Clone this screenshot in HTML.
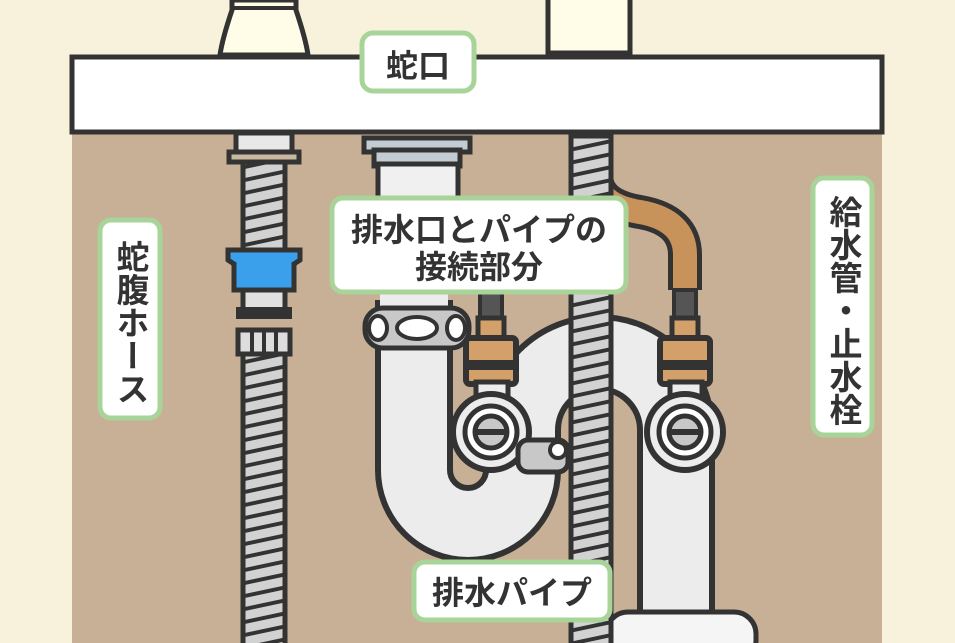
<!DOCTYPE html>
<html><head><meta charset="utf-8"><style>
html,body{margin:0;padding:0;background:#f8f2dc;}
svg{display:block}
text{font-family:"Liberation Sans","Noto Sans CJK JP",sans-serif;font-weight:bold;fill:#333;}
.vl{position:absolute;writing-mode:vertical-rl;font-family:"Liberation Sans","Noto Sans CJK JP",sans-serif;font-weight:bold;color:#333;font-size:33px;line-height:1;text-align:center;}
</style></head><body>
<div style="position:relative;width:955px;height:643px;overflow:hidden">
<svg width="955" height="643" viewBox="0 0 955 643" xmlns="http://www.w3.org/2000/svg">
<defs>
<pattern id="hose" width="60" height="13" patternUnits="userSpaceOnUse" patternTransform="skewY(-12)">
<rect width="60" height="13" fill="#d2d2d2"/><rect y="9" width="60" height="4" fill="#333"/>
</pattern>
</defs>
<rect width="955" height="643" fill="#f8f2dc"/>
<rect x="72" y="130" width="810" height="513" fill="#c8b096"/>
<path d="M232 0 L232 10 Q222 40 220 55 L308 55 Q306 40 296 10 L296 0Z" fill="#fffde8" stroke="#333" stroke-width="5"/>
<line x1="232" y1="8" x2="296" y2="8" stroke="#333" stroke-width="4"/>
<rect x="548" y="-5" width="82" height="58" fill="#fffde8" stroke="#333" stroke-width="5"/>
<rect x="236" y="133" width="56" height="22" fill="#e8e8e8" stroke="#333" stroke-width="5"/>
<rect x="229" y="152" width="70" height="10" fill="#c9b8a0" stroke="#333" stroke-width="5"/>
<rect x="243" y="162" width="42" height="96" fill="url(#hose)" stroke="#333" stroke-width="5"/>
<path d="M228 250 L300 250 L300 260 L294 264 L294 290 L234 290 L234 264 L228 260Z" fill="#3aa0ec" stroke="#333" stroke-width="5"/>
<rect x="243" y="290" width="42" height="20" fill="#e0e0e0" stroke="#333" stroke-width="5"/>
<rect x="236" y="307" width="56" height="12" fill="#333"/>
<rect x="238" y="330" width="52" height="24" fill="#ddd" stroke="#333" stroke-width="5"/>
<line x1="252" y1="332" x2="252" y2="352" stroke="#333" stroke-width="4"/><line x1="264" y1="332" x2="264" y2="352" stroke="#333" stroke-width="4"/><line x1="276" y1="332" x2="276" y2="352" stroke="#333" stroke-width="4"/>
<rect x="243" y="354" width="42" height="300" fill="url(#hose)" stroke="#333" stroke-width="5"/>
<rect x="364" y="138" width="106" height="14" fill="#c3ccd2" stroke="#333" stroke-width="5"/>
<rect x="374" y="150" width="86" height="16" fill="#c3ccd2" stroke="#333" stroke-width="5"/>
<rect x="378" y="164" width="80" height="50" fill="#f0f0f0" stroke="#333" stroke-width="5"/>
<path d="M414 300 L414 470 A54 54 0 0 0 522 470 L522 430 A77 77 0 0 1 676 430 L676 660" fill="none" stroke="#333" stroke-width="78"/>
<path d="M414 300 L414 470 A54 54 0 0 0 522 470 L522 430 A77 77 0 0 1 676 430 L676 660" fill="none" stroke="#ececec" stroke-width="66"/>
<rect x="380" y="290" width="68" height="20" fill="#ececec"/>
<rect x="365" y="308" width="104" height="40" rx="18" fill="#c8c8c8" stroke="#333" stroke-width="5"/>
<ellipse cx="378" cy="328" rx="9" ry="12" fill="#fff" stroke="#333" stroke-width="4"/>
<ellipse cx="456" cy="328" rx="9" ry="12" fill="#fff" stroke="#333" stroke-width="4"/>
<ellipse cx="417" cy="328" rx="20" ry="11" fill="#fff" stroke="#333" stroke-width="4"/>
<rect x="606" y="612" width="150" height="50" rx="22" fill="#f5f5f5" stroke="#333" stroke-width="5"/>
<path d="M596 136 L596 175 Q596 205 640 212 Q685 220 685 255 L685 290" fill="none" stroke="#333" stroke-width="34"/>
<path d="M596 136 L596 175 Q596 205 640 212 Q685 220 685 255 L685 290" fill="none" stroke="#c8935a" stroke-width="24"/>
<rect x="571" y="136" width="40" height="520" fill="url(#hose)" stroke="#333" stroke-width="5"/>
<g id="v">
<rect x="480" y="290" width="22" height="32" fill="#555" stroke="#333" stroke-width="4"/>
<rect x="478" y="318" width="26" height="22" fill="#d4a06a" stroke="#333" stroke-width="5"/>
<rect x="466" y="338" width="50" height="46" rx="4" fill="#d4a06a" stroke="#333" stroke-width="6"/>
<rect x="466" y="360" width="50" height="10" fill="#333"/>
<rect x="476" y="382" width="32" height="22" fill="#ececec" stroke="#333" stroke-width="5"/>
<circle cx="491" cy="432" r="38" fill="#ececec" stroke="#333" stroke-width="6"/>
<circle cx="491" cy="432" r="26" fill="#fff" stroke="#333" stroke-width="5"/>
<circle cx="491" cy="432" r="16" fill="#c8c8c8" stroke="#333" stroke-width="5"/>
<rect x="477" y="429" width="28" height="6" fill="#333"/>
</g>
<use href="#v" transform="translate(194 0)"/>
<rect x="518" y="440" width="50" height="32" rx="10" fill="#c8c8c8" stroke="#333" stroke-width="5"/>
<circle cx="558" cy="450" r="8" fill="#fff" stroke="#333" stroke-width="4"/>
<rect x="72" y="57" width="810" height="75" fill="#fff" stroke="#333" stroke-width="5"/>
<g fill="#fff" stroke="#a8d49a" stroke-width="5">
<rect x="362" y="33" width="112" height="58" rx="11"/>
<rect x="332" y="198" width="294" height="94" rx="11"/>
<rect x="100" y="220" width="60" height="198" rx="11"/>
<rect x="813" y="178" width="59" height="257" rx="11"/>
<rect x="414" y="562" width="196" height="58" rx="11"/>
</g>
<text x="418" y="77" font-size="32" text-anchor="middle">蛇口</text>
<text x="479" y="241" font-size="32" text-anchor="middle">排水口とパイプの</text>
<text x="479" y="278" font-size="32" text-anchor="middle">接続部分</text>
<text x="512" y="604" font-size="32" text-anchor="middle">排水パイプ</text>
</svg>
<div class="vl" style="left:113px;top:234px;width:34px;height:176px;">蛇腹ホース</div>
<div class="vl" style="left:826px;top:192px;width:34px;height:236px;">給水管・止水栓</div>
</div>
</body></html>
